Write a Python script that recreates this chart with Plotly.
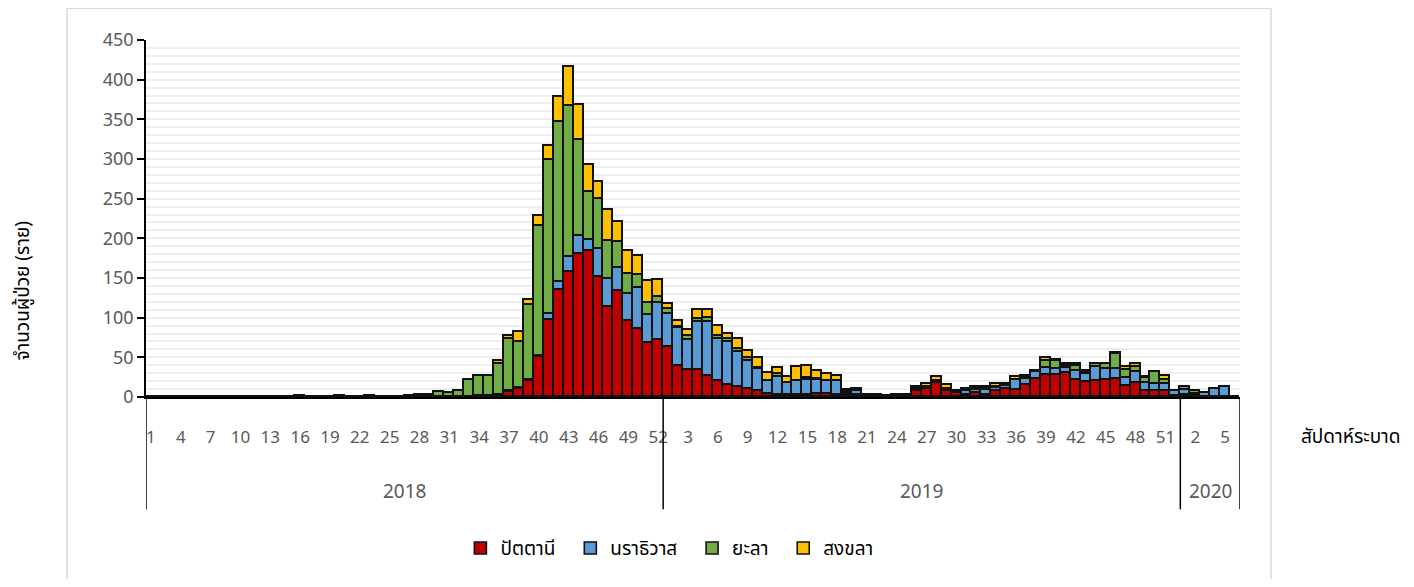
import plotly.graph_objects as go

# ---------------- data ----------------
weeks_2018 = list(range(1, 53))
weeks_2019 = list(range(1, 53))
weeks_2020 = list(range(1, 7))
years = ["2018", "2019", "2020"]

pattani = [0] * 33 + [1, 1, 2, 6, 10, 20, 51, 97, 135, 158, 180, 184, 151, 113, 134, 96, 86, 68, 72] + \
    [63, 39, 34, 34, 27, 20, 15, 13, 10, 8, 4, 3, 3, 3, 3, 4, 4, 2, 2, 2,
     1, 2, 1, 2, 2, 7, 10, 18, 8, 5, 2, 5, 3, 7, 10, 9, 15, 23, 28, 28,
     30, 22, 19, 20, 21, 23, 14, 18, 8, 8, 7, 1] + \
    [3, 1, 0, 0, 0, 0]

narathiwat = [0] * 36 + [1, 1, 1, 1, 7, 10, 18, 23, 14, 36, 36, 29, 34, 51, 35, 46] + \
    [42, 48, 38, 60, 67, 53, 54, 44, 36, 27, 16, 22, 15, 17, 19, 17, 16, 18, 2, 6,
     1, 1, 0, 1, 1, 1, 2, 1, 1, 1, 5, 4, 6, 4, 4, 12, 8, 9, 8, 7,
     6, 11, 10, 18, 14, 12, 10, 14, 10, 9, 10, 6] + \
    [6, 3, 5, 10, 12, 0]

yala = [0] * 15 + [1, 0, 0, 0, 1, 0, 0, 1, 0, 0, 0, 1, 2, 3, 6, 5, 8, 21, 25, 26, 40,
                   66, 58, 95, 164, 195, 202, 191, 121, 60, 63, 48, 33, 25, 17, 16, 8] + \
    [6, 1, 5, 4, 5, 4, 4, 4, 3, 1, 0, 4, 0, 0, 2, 2, 0, 0, 2, 1,
     0, 0, 0, 0, 0, 2, 1, 1, 1, 1, 2, 2, 2, 2, 1, 1, 1, 1, 9, 11,
     3, 6, 3, 3, 6, 19, 10, 6, 6, 14, 5, 0] + \
    [3, 3, 0, 0, 0, 0]

songkhla = [0] * 35 + [3, 4, 13, 6, 12, 18, 31, 49, 44, 34, 21, 39, 25, 29, 24, 27, 22] + \
    [6, 8, 8, 12, 11, 12, 7, 12, 9, 13, 10, 8, 7, 18, 15, 10, 9, 7, 3, 1,
     0, 0, 0, 0, 0, 3, 3, 5, 5, 1, 1, 2, 2, 3, 1, 3, 3, 0, 4, 1,
     2, 3, 1, 0, 1, 2, 4, 4, 1, 0, 4, 0] + \
    [1, 0, 0, 0, 0, 0]

series_names = ["ปัตตานี", "นราธิวาส", "ยะลา", "สงขลา"]
series_colors = ["#C00000", "#5B9BD5", "#70AD47", "#FFC000"]
series_values = [pattani, narathiwat, yala, songkhla]

# ---------------- build ----------------
week_labels = weeks_2018 + weeks_2019 + weeks_2020
year_sizes = [len(weeks_2018), len(weeks_2019), len(weeks_2020)]
x = list(range(len(week_labels)))

THAI = "Noto Sans Thai, Tahoma, Noto Sans, sans-serif"
NUM = "Noto Sans, Open Sans, sans-serif"

fig = go.Figure()
for name, col, vals in zip(series_names, series_colors, series_values):
    fig.add_trace(go.Bar(x=x, y=vals, name=name + "\u00a0\u00a0",
                         marker=dict(color=col, line=dict(color="#111111", width=1.6))))

tickvals = x[::3]
ticktext = [str(week_labels[i]) for i in tickvals]

# page body has an 8px margin: figure area = 1398 x 571
W, H = 1398, 571
L, T = 138, 32
PW, PH = 1094, 359

fig.update_layout(
    width=W, height=H,
    barmode="stack", bargap=0,
    plot_bgcolor="white", paper_bgcolor="white",
    margin=dict(l=L, r=W - L - PW, t=T, b=H - T - PH, pad=0),
    showlegend=True,
    legend=dict(orientation="h", x=0.483, y=(399 - 551) / 359, xanchor="center", yanchor="middle",
                font=dict(family=THAI, size=19, color="#000000"), traceorder="normal",
                itemwidth=30),
    xaxis=dict(range=[-0.5, len(x) - 0.5], tickvals=tickvals, ticktext=ticktext,
               showgrid=False, zeroline=False, showline=True, linecolor="#000000", linewidth=1.5,
               ticks="outside", ticklen=24, tickcolor="rgba(0,0,0,0)",
               tickfont=dict(family=NUM, size=17, color="#595959"), tickangle=0),
    yaxis=dict(range=[0, 450], dtick=50, showline=True, linecolor="#000000", linewidth=1.5,
               ticks="outside", ticklen=7, tickcolor="#000000", tickwidth=1.5,
               tickfont=dict(family=NUM, size=18, color="#595959"),
               showgrid=True, gridcolor="#EEEEEE", gridwidth=2, zeroline=False,
               minor=dict(dtick=10, showgrid=True, gridcolor="#EEEEEE", gridwidth=2)),
)

# multi-level axis dividers
bottom = (399 - 512) / 359
bounds = [-0.5]
acc = -0.5
for n in year_sizes:
    acc += n
    bounds.append(acc)
for b in bounds:
    fig.add_shape(type="line", xref="x", yref="paper", x0=b, x1=b, y0=0, y1=bottom,
                  line=dict(color="#000000", width=1.5))

# year labels
start = 0
for yr, n in zip(years, year_sizes):
    fig.add_annotation(x=start + (n - 1) / 2, y=(399 - 494) / 359, xref="x", yref="paper",
                       xanchor="center", yanchor="middle",
                       text=yr, showarrow=False, font=dict(family=NUM, size=19, color="#595959"))
    start += n

# axis titles
fig.add_annotation(x=(24 - 146) / 1094, y=(399 - 292) / 359, xref="paper", yref="paper",
                   xanchor="center", yanchor="middle", text="จำนวนผู้ป่วย (ราย)",
                   textangle=-90, showarrow=False, font=dict(family=THAI, size=19, color="#000000"))
fig.add_annotation(x=(1351 - 146) / 1094, y=(399 - 440) / 359, xref="paper", yref="paper",
                   xanchor="center", yanchor="middle",
                   text="สัปดาห์ระบาด", showarrow=False, font=dict(family=THAI, size=19, color="#000000"))

# chart border
xl, xr = (67 - 146) / 1094, (1271 - 146) / 1094
yt, yb = (399 - 8) / 359, (399 - 590) / 359
for (a, b, c, d) in [(xl, yt, xr, yt), (xl, yt, xl, yb), (xr, yt, xr, yb)]:
    fig.add_shape(type="line", xref="paper", yref="paper", x0=a, y0=b, x1=c, y1=d,
                  line=dict(color="#D9D9D9", width=1.5))

fig.write_html("out.html")
